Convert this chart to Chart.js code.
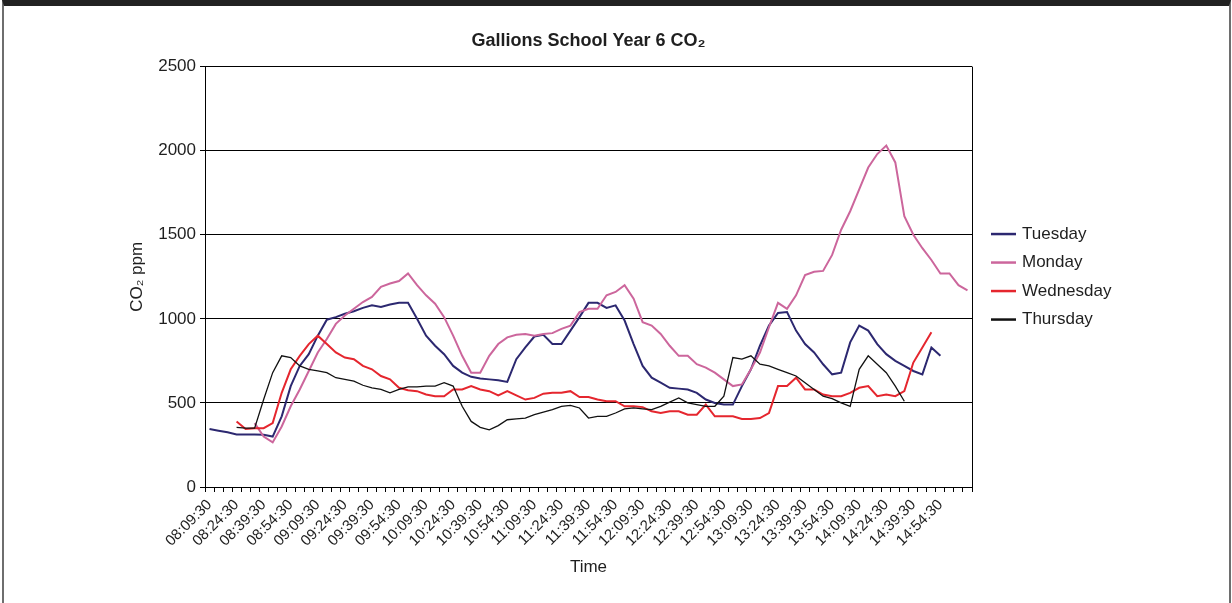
<!DOCTYPE html>
<html>
<head>
<meta charset="utf-8">
<title>Gallions School Year 6 CO₂</title>
<script src="https://cdn.jsdelivr.net/npm/chart.js@4.4.1/dist/chart.umd.min.js"></script>
<style>
  html, body { margin: 0; padding: 0; background: #fff; }
  #wrap { position: relative; width: 1232px; height: 603px; overflow: hidden; }
  #c { position: absolute; left: 0; top: 0; }
  .frame {
    position: absolute; left: 2px; top: 0; right: 1px; bottom: -4px;
    border-top: 6px solid #222; border-left: 2px solid #6e6e6e; border-right: 2px solid #6e6e6e;
    pointer-events: none;
  }
</style>
</head>
<body>
<div id="wrap">
  <canvas id="c" width="1232" height="603"></canvas>
  <div class="frame"></div>
</div>
<script>
// Logger readings, one every five minutes
const times = [
  '08:09:30','08:14:30','08:19:30','08:24:30','08:29:30','08:34:30','08:39:30','08:44:30','08:49:30','08:54:30',
  '08:59:30','09:04:30','09:09:30','09:14:30','09:19:30','09:24:30','09:29:30','09:34:30','09:39:30','09:44:30',
  '09:49:30','09:54:30','09:59:30','10:04:30','10:09:30','10:14:30','10:19:30','10:24:30','10:29:30','10:34:30',
  '10:39:30','10:44:30','10:49:30','10:54:30','10:59:30','11:04:30','11:09:30','11:14:30','11:19:30','11:24:30',
  '11:29:30','11:34:30','11:39:30','11:44:30','11:49:30','11:54:30','11:59:30','12:04:30','12:09:30','12:14:30',
  '12:19:30','12:24:30','12:29:30','12:34:30','12:39:30','12:44:30','12:49:30','12:54:30','12:59:30','13:04:30',
  '13:09:30','13:14:30','13:19:30','13:24:30','13:29:30','13:34:30','13:39:30','13:44:30','13:49:30','13:54:30',
  '13:59:30','14:04:30','14:09:30','14:14:30','14:19:30','14:24:30','14:29:30','14:34:30','14:39:30','14:44:30',
  '14:49:30','14:54:30','14:59:30','15:04:30','15:09:30'
];

// Only every third time is printed under the axis
const tickLabels = [
  '08:09:30','08:24:30','08:39:30','08:54:30','09:09:30','09:24:30','09:39:30','09:54:30','10:09:30','10:24:30',
  '10:39:30','10:54:30','11:09:30','11:24:30','11:39:30','11:54:30','12:09:30','12:24:30','12:39:30','12:54:30',
  '13:09:30','13:24:30','13:39:30','13:54:30','14:09:30','14:24:30','14:39:30','14:54:30'
];

const yTicks = [0, 500, 1000, 1500, 2000, 2500];

// CO2 in ppm; null where the logger has no reading
const tuesday = [
  345, 335, 325, 312, 312, 312, 310, 300, 420, 600,
  720, 790, 900, 995, 1010, 1030, 1045, 1065, 1080, 1070,
  1085, 1095, 1095, 1000, 900, 840, 790, 720, 680, 655,
  645, 640, 635, 625, 760, 830, 895, 905, 850, 850,
  930, 1010, 1095, 1095, 1065, 1080, 990, 850, 720, 650,
  620, 590, 585, 580, 560, 520, 500, 490, 490, 600,
  700, 840, 960, 1035, 1040, 930, 850, 800, 730, 670,
  680, 860, 960, 930, 850, 790, 750, 720, 690, 670,
  830, 780, null, null, null
];

const monday = [
  null, null, null, null, null, 380, 300, 265, 360, 480,
  580, 690, 800, 880, 970, 1020, 1060, 1100, 1130, 1190,
  1210, 1225, 1270, 1200, 1140, 1090, 1010, 900, 780, 680,
  680, 780, 850, 890, 905, 910, 900, 910, 915, 940,
  960, 1040, 1060, 1060, 1140, 1160, 1200, 1120, 980, 960,
  910, 840, 780, 780, 730, 710, 680, 640, 600, 610,
  700, 800, 950, 1095, 1060, 1140, 1260, 1280, 1285, 1380,
  1530, 1640, 1770, 1900, 1980, 2030, 1930, 1610, 1500, 1420,
  1350, 1270, 1270, 1200, 1170
];

const wednesday = [
  null, null, null, 390, 345, 350, 350, 380, 560, 700,
  780, 850, 900, 850, 800, 770, 760, 720, 700, 660,
  640, 590, 575, 570, 550, 540, 540, 580, 580, 600,
  580, 570, 545, 570, 545, 520, 530, 555, 560, 560,
  570, 535, 535, 520, 510, 510, 480, 480, 475, 450,
  440, 450, 450, 430, 430, 490, 420, 420, 420, 405,
  405, 410, 440, 600, 600, 650, 580, 580, 550, 540,
  540, 560, 590, 600, 540, 550, 540, 570, 740, 830,
  920, null, null, null, null
];

const thursday = [
  null, null, null, 355, 350, 350, 520, 680, 780, 770,
  720, 700, 690, 680, 650, 640, 630, 605, 590, 580,
  560, 580, 595, 595, 600, 600, 620, 600, 480, 390,
  355, 340, 365, 400, 405, 410, 430, 445, 460, 480,
  485, 470, 410, 420, 420, 440, 465, 470, 465, 460,
  480, 505, 530, 500, 490, 480, 480, 540, 770, 760,
  780, 730, 720, 700, 680, 660, 620, 580, 540, 525,
  500, 480, 700, 780, 730, 680, 600, 510, null, null,
  null, null, null, null, null
];

const FONT = "'Liberation Sans', Arial, Helvetica, sans-serif";
const INK = '#1f1f1f';

// Right-hand key: a short line in each series colour followed by its name
const sideLegend = {
  id: 'sideLegend',
  afterDraw(chart, args, opts) {
    const { ctx, chartArea } = chart;
    const sets = chart.data.datasets;
    const x0 = chartArea.right + opts.gap;
    const mid = (chartArea.top + chartArea.bottom) / 2;
    let y = mid - opts.step * (sets.length - 1) / 2;
    ctx.save();
    ctx.font = opts.font;
    ctx.textBaseline = 'middle';
    ctx.textAlign = 'left';
    sets.forEach(ds => {
      ctx.strokeStyle = ds.borderColor;
      ctx.lineWidth = 2.5;
      ctx.beginPath();
      ctx.moveTo(x0, y);
      ctx.lineTo(x0 + opts.lineLen, y);
      ctx.stroke();
      ctx.fillStyle = INK;
      ctx.fillText(ds.label, x0 + opts.lineLen + opts.textGap, y);
      y += opts.step;
    });
    ctx.restore();
  }
};

// Closing line on the right of the plot area
const plotFrame = {
  id: 'plotFrame',
  beforeDatasetsDraw(chart) {
    const { ctx, chartArea } = chart;
    ctx.save();
    ctx.strokeStyle = '#000';
    ctx.lineWidth = 1;
    ctx.beginPath();
    ctx.moveTo(Math.round(chartArea.right) + 0.5, chartArea.top);
    ctx.lineTo(Math.round(chartArea.right) + 0.5, chartArea.bottom);
    ctx.stroke();
    ctx.restore();
  }
};

const series = (label, data, color, width, order) => ({
  label, data,
  borderColor: color,
  backgroundColor: color,
  borderWidth: width,
  pointRadius: 0,
  pointHoverRadius: 0,
  tension: 0,
  spanGaps: false,
  fill: false,
  order
});

new Chart(document.getElementById('c'), {
  type: 'line',
  data: {
    labels: times,
    datasets: [
      series('Tuesday', tuesday, '#2c2870', 2, 4),
      series('Monday', monday, '#cc669c', 2, 3),
      series('Wednesday', wednesday, '#e5262e', 2, 2),
      series('Thursday', thursday, '#111111', 1.3, 1)
    ]
  },
  options: {
    responsive: false,
    animation: false,
    devicePixelRatio: 1,
    layout: { padding: { left: 123, right: 260, top: 14, bottom: 21 } },
    plugins: {
      legend: { display: false },
      tooltip: { enabled: false },
      title: {
        display: true,
        text: 'Gallions School Year 6 CO₂',
        fullSize: false,
        color: INK,
        font: { family: FONT, size: 18, weight: 'bold' },
        padding: { top: 16, bottom: 15 }
      },
      sideLegend: { gap: 19, step: 28.5, lineLen: 25, textGap: 6, font: `17px ${FONT}` }
    },
    scales: {
      x: {
        type: 'category',
        offset: true,
        grid: {
          offset: true,
          drawOnChartArea: false,
          drawTicks: true,
          tickLength: 5,
          color: '#000',
          lineWidth: 1
        },
        border: { display: true, color: '#000', width: 1 },
        ticks: {
          autoSkip: false,
          maxRotation: 45,
          minRotation: 45,
          padding: 4,
          color: INK,
          font: { family: FONT, size: 15 },
          callback: function (value) {
            const t = this.getLabelForValue(value);
            return tickLabels.includes(t) ? t : '';
          }
        },
        title: {
          display: true,
          text: 'Time',
          color: INK,
          font: { family: FONT, size: 17 },
          padding: { top: 4, bottom: 4 }
        },
        afterFit(scale) { scale.height = 95; }
      },
      y: {
        min: yTicks[0],
        max: yTicks[yTicks.length - 1],
        afterBuildTicks(scale) { scale.ticks = yTicks.map(v => ({ value: v })); },
        grid: {
          color: '#000',
          lineWidth: 1,
          drawTicks: true,
          tickLength: 5
        },
        border: { display: true, color: '#000', width: 1 },
        ticks: {
          padding: 4,
          color: INK,
          font: { family: FONT, size: 17 },
          callback: (value) => String(value)
        },
        title: {
          display: true,
          text: 'CO₂ ppm',
          color: INK,
          font: { family: FONT, size: 17 },
          padding: { top: 4, bottom: 4 }
        },
        afterFit(scale) { scale.width = 82; }
      }
    }
  },
  plugins: [plotFrame, sideLegend]
});
</script>
</body>
</html>
